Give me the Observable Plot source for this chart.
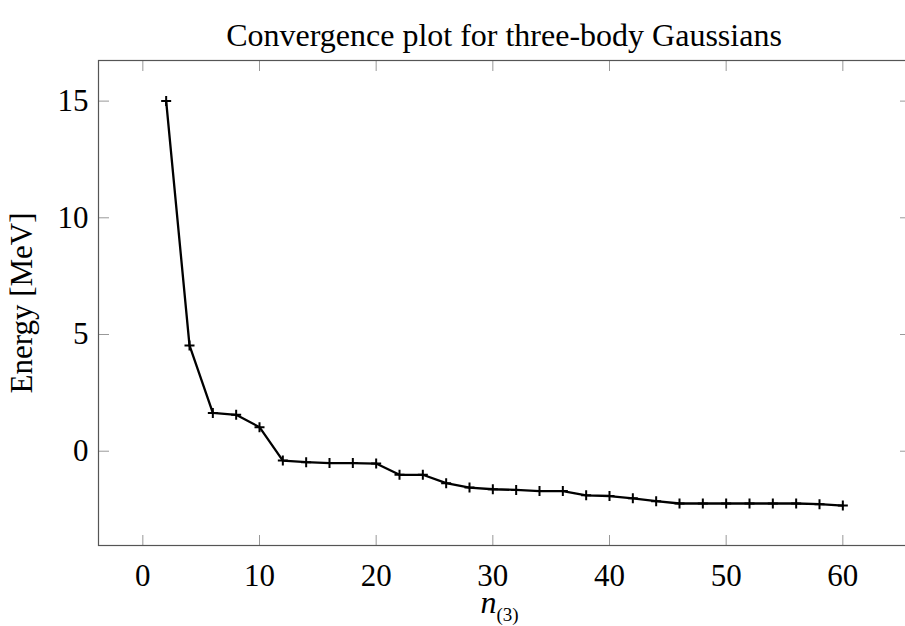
<!DOCTYPE html>
<html>
<head>
<meta charset="utf-8">
<script src="https://cdn.jsdelivr.net/npm/d3@7"></script>
<script src="https://cdn.jsdelivr.net/npm/@observablehq/plot@0.6"></script>
<style>
  html, body { margin: 0; padding: 0; background: #fff; }
  #wrap { position: relative; width: 905px; height: 626px; overflow: hidden; }
  #wrap svg { max-width: none !important; display: block; }
  #title { position: absolute; left: 98px; width: 812px; top: 17px; text-align: center;
           font-family: "Liberation Serif", serif; font-size: 32px; color: #000; white-space: nowrap; z-index: 2; }
</style>
</head>
<body>
<div id="wrap">
  <div id="title"></div>
</div>
<script>
const title = "Convergence plot for three-body Gaussians";
const xLabel = "n";
const xLabelSub = "(3)";
const yLabel = "Energy [MeV]";
const nValues = [2, 4, 6, 8, 10, 12, 14, 16, 18, 20, 22, 24, 26, 28, 30, 32, 34, 36, 38, 40, 42, 44, 46, 48, 50, 52, 54, 56, 58, 60];
const energy = [15.0, 4.53, 1.64, 1.56, 1.03, -0.40, -0.47, -0.51, -0.51, -0.53, -1.01, -1.01, -1.37, -1.56, -1.63, -1.66, -1.71, -1.71, -1.89, -1.92, -2.02, -2.14, -2.24, -2.24, -2.24, -2.24, -2.24, -2.24, -2.27, -2.33];
const xTicks = [0, 10, 20, 30, 40, 50, 60];
const yTicks = [0, 5, 10, 15];

const data = nValues.map((n, i) => ({n, e: energy[i]}));

const plusSymbol = {
  draw(context, size) {
    const r = Math.sqrt(size / Math.PI);
    context.moveTo(-r, 0); context.lineTo(r, 0);
    context.moveTo(0, -r); context.lineTo(0, r);
  }
};

const font = "Liberation Serif, serif";
const frameColor = "#555";
const tickColor = "#999";

const chart = Plot.plot({
  width: 911,
  height: 626,
  marginLeft: 98,
  marginRight: 1,
  marginTop: 60,
  marginBottom: 81,
  style: {fontFamily: font, fontSize: "31px", background: "white", maxWidth: "none"},
  x: {domain: [-3.8, 65.8]},
  y: {domain: [-4.04, 16.74]},
  marks: [
    Plot.axisX({anchor: "bottom", ticks: xTicks, tickSize: -10, tickPadding: 28, stroke: tickColor, color: "black", fontSize: 31, label: null, tickFormat: d => String(d)}),
    Plot.axisX({anchor: "top", ticks: xTicks, tickSize: -10, stroke: tickColor, label: null, tickFormat: () => ""}),
    Plot.axisY({anchor: "left", ticks: yTicks, tickSize: -11, tickPadding: 21, stroke: tickColor, color: "black", fontSize: 31, label: null, tickFormat: d => String(d)}),
    Plot.axisY({anchor: "right", ticks: yTicks, tickSize: -11, stroke: tickColor, label: null, tickFormat: () => ""}),
    Plot.frame({stroke: frameColor, strokeWidth: 1.2}),
    Plot.line(data, {x: "n", y: "e", stroke: "black", strokeWidth: 2.3}),
    Plot.dot(data, {x: "n", y: "e", symbol: plusSymbol, r: 5, stroke: "black", strokeWidth: 2, fill: "none"}),
    Plot.text([yLabel], {frameAnchor: "left", dx: -76, rotate: -90, fontSize: 31, fill: "black", textAnchor: "middle"}),
    Plot.text([xLabel], {frameAnchor: "bottom", dx: -8, dy: 67, textAnchor: "end", fontSize: 32, fontStyle: "italic", fill: "black"}),
    Plot.text([xLabelSub], {frameAnchor: "bottom", dx: -8, dy: 75, textAnchor: "start", fontSize: 19, fill: "black"})
  ]
});

document.getElementById("title").textContent = title;
document.getElementById("wrap").appendChild(chart);
</script>
</body>
</html>
